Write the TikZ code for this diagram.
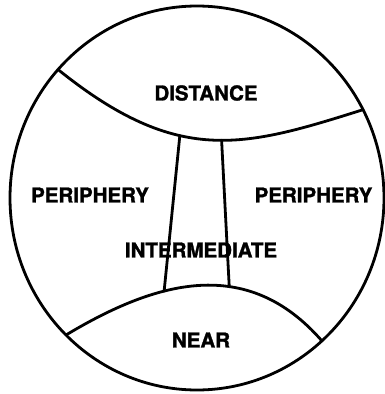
\documentclass[tikz,border=0pt]{standalone}
\usepackage{fontspec}
\setmainfont{TeX Gyre Heros}[BoldFeatures={FakeBold=1.5}]
\begin{document}
\begin{tikzpicture}[x=1pt,y=-1pt,
  outline/.style={line width=2.8pt,line cap=round,line join=round},
  zonelabel/.style={font=\fontsize{20.5}{20.5}\selectfont\bfseries,inner sep=0pt,anchor=center}]
\useasboundingbox (0,0) rectangle (384,394);
% outer field
\draw[outline] (197,198) ellipse [x radius=187pt, y radius=192pt];
% upper boundary (distance zone)
\draw[outline] (58,69.5) .. controls (178,166) and (243,147.6) .. (363,109.7)
  coordinate[pos=0.39] (ul) coordinate[pos=0.54] (ur);
% lower boundary (near zone)
\draw[outline] (66,335) .. controls (156,281) and (247,254.75) .. (322,341)
  coordinate[pos=0.365] (ll) coordinate[pos=0.615] (lr);
% intermediate corridor
\draw[outline] (ul) -- (ll);
\draw[outline] (ur) -- (lr);
% labels
\node[zonelabel] (distance) at (206,93) {DISTANCE};
\node[zonelabel] (periL) at (90,195) {PERIPHERY};
\node[zonelabel] (periR) at (313.5,195) {PERIPHERY};
\node[zonelabel] (inter) at (201,250) {INTERMEDIATE};
\node[zonelabel] (near) at (201,340) {NEAR};
\end{tikzpicture}
\end{document}
